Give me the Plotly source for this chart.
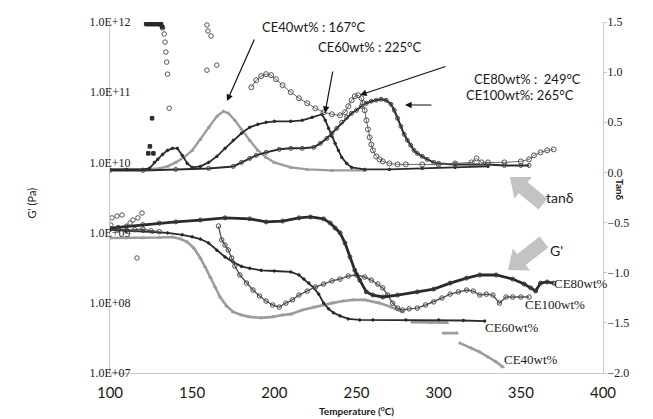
import math
import plotly.graph_objects as go

# ---------------- data ----------------
# tan delta (right axis)
tan40_T = [100, 110, 120, 130, 135, 140, 145, 150, 155, 160, 165, 169, 172, 176, 180, 185, 190, 195, 200, 210, 220, 235, 255]
tan40_v = [0.03, 0.03, 0.03, 0.04, 0.06, 0.10, 0.15, 0.22, 0.33, 0.45, 0.56, 0.61, 0.59, 0.52, 0.43, 0.32, 0.22, 0.15, 0.10, 0.05, 0.03, 0.02, 0.02]

tan60_T = [100, 110, 120, 124, 127, 129, 132, 135, 138, 141, 144, 147, 150, 155, 160, 165, 170, 175, 180, 185, 190, 195, 200, 210, 217, 223, 229, 231, 233, 235, 237, 239, 241, 244, 247, 255, 270, 290, 310, 330]
tan60_v = [0.03, 0.03, 0.03, 0.04, 0.10, 0.13, 0.18, 0.22, 0.24, 0.24, 0.17, 0.09, 0.05, 0.06, 0.10, 0.16, 0.24, 0.32, 0.39, 0.45, 0.48, 0.50, 0.51, 0.51, 0.52, 0.55, 0.58, 0.52, 0.44, 0.36, 0.29, 0.22, 0.15, 0.09, 0.05, 0.03, 0.03, 0.04, 0.05, 0.06]

tan80_T = [186, 189, 192, 195, 198, 201, 205, 210, 215, 220, 225, 230, 235, 240, 243, 245, 247, 249, 251, 253, 254, 255, 256, 257, 258, 259, 260, 262, 264, 266, 270, 275, 280, 290, 300, 310, 320, 323, 326, 330, 340, 350, 355, 358, 362, 366, 370]
tan80_v = [0.85, 0.92, 0.96, 0.98, 0.97, 0.93, 0.87, 0.80, 0.74, 0.69, 0.64, 0.60, 0.58, 0.57, 0.60, 0.66, 0.72, 0.76, 0.77, 0.74, 0.69, 0.62, 0.52, 0.43, 0.35, 0.28, 0.22, 0.16, 0.13, 0.11, 0.09, 0.08, 0.08, 0.08, 0.08, 0.09, 0.10, 0.14, 0.10, 0.10, 0.10, 0.11, 0.13, 0.17, 0.20, 0.22, 0.23]

tan100_T = [100, 120, 140, 160, 175, 180, 185, 189, 195, 203, 210, 217, 224, 228, 232, 235, 238, 241, 244, 247, 250, 253, 256, 259, 262, 265, 268, 271, 273, 275, 277, 279, 281, 283, 285, 287, 290, 293, 297, 300, 310, 320, 330, 340, 350, 355]
tan100_v = [0.02, 0.02, 0.03, 0.04, 0.06, 0.10, 0.14, 0.17, 0.20, 0.23, 0.24, 0.24, 0.25, 0.29, 0.34, 0.39, 0.44, 0.50, 0.55, 0.59, 0.62, 0.66, 0.69, 0.71, 0.72, 0.73, 0.72, 0.68, 0.62, 0.54, 0.46, 0.38, 0.32, 0.27, 0.22, 0.19, 0.16, 0.13, 0.10, 0.09, 0.08, 0.08, 0.08, 0.07, 0.07, 0.07]

# scattered low-temperature tan delta points
tan_out_circ_T = [131, 132, 133, 133.5, 134, 134.5, 135, 136, 159, 159.6, 161.5, 159, 165]
tan_out_circ_v = [1.47, 1.44, 1.38, 1.30, 1.20, 1.10, 0.98, 0.64, 1.47, 1.41, 1.36, 1.02, 1.07]
tan_out_dark_T = [122, 123, 124, 125, 126, 127, 128, 129, 130, 131, 131.8, 125.6, 124.3, 123.3, 126.4]
tan_out_dark_v = [1.48, 1.48, 1.48, 1.48, 1.48, 1.48, 1.48, 1.48, 1.48, 1.48, 1.45, 0.54, 0.26, 0.19, 0.19]

# storage modulus G' (left axis, Pa)
g80_T = [100, 105, 110, 120, 130, 140, 155, 170, 185, 195, 205, 215, 222, 230, 234, 237, 240, 243, 246, 249, 252, 256, 260, 266, 275, 287, 297, 307, 317, 325, 335, 345, 352, 356, 359, 362, 366, 370]
g80_v = [1.16e9, 1.19e9, 1.24e9, 1.30e9, 1.37e9, 1.42e9, 1.51e9, 1.62e9, 1.57e9, 1.42e9, 1.46e9, 1.62e9, 1.67e9, 1.57e9, 1.37e9, 1.16e9, 9.9e8, 7.1e8, 4.5e8, 2.9e8, 2.1e8, 1.43e8, 1.29e8, 1.21e8, 1.29e8, 1.43e8, 1.57e8, 1.91e8, 2.25e8, 2.49e8, 2.49e8, 2.18e8, 1.85e8, 1.63e8, 1.47e8, 1.91e8, 1.98e8, 1.91e8]

g60_T = [100, 110, 120, 126, 135, 144, 150, 155, 160, 165, 170, 175, 180, 185, 192, 200, 210, 215, 218, 221, 224, 227, 230, 233, 236, 240, 245, 252, 260, 280, 300, 315, 328]
g60_v = [1.09e9, 1.07e9, 1.05e9, 1.02e9, 9.9e8, 9.3e8, 8.7e8, 8.1e8, 7.1e8, 5.6e8, 4.5e8, 3.8e8, 3.3e8, 3.1e8, 2.9e8, 2.84e8, 2.75e8, 2.49e8, 2.18e8, 1.91e8, 1.63e8, 1.33e8, 9.9e7, 8.2e7, 7.2e7, 6.5e7, 5.9e7, 5.7e7, 5.7e7, 5.7e7, 5.7e7, 5.6e7, 5.5e7]

g100_T = [100, 105, 110, 115, 120, 125, 130, None,
          166, 168, 170, 172, 174, 176, 179, 183, 187, 191, 195, 199, 203, 207, 211, 215, 220, 225, 230, 235, 240, 245, 250, 255, 259, 263, 266, 269, 272, 275, 278, 282, 287, 292, 297, 302, 307, 312, 317, 321, 325, 329, 333, 337, 341, 345, 350, 355]
g100_v = [1.12e9, 1.10e9, 1.08e9, 1.10e9, 1.12e9, 1.06e9, 1.03e9, None,
          1.24e9, 7.85e8, 6.65e8, 5.65e8, 4.35e8, 3.34e8, 2.49e8, 1.91e8, 1.52e8, 1.25e8, 1.06e8, 9.3e7, 8.7e7, 9.9e7, 1.10e8, 1.29e8, 1.47e8, 1.68e8, 1.85e8, 2.05e8, 2.18e8, 2.41e8, 2.49e8, 2.33e8, 2.11e8, 1.85e8, 1.63e8, 1.29e8, 9.9e7, 8.4e7, 7.9e7, 8.2e7, 8.4e7, 9.3e7, 1.03e8, 1.17e8, 1.33e8, 1.43e8, 1.52e8, 1.47e8, 1.29e8, 1.33e8, 1.29e8, 9.9e7, 1.21e8, 1.21e8, 1.21e8, 1.21e8]

g40_T = [100, 110, 120, 130, 138, 143, 147, 151, 155, 158, 161, 164, 167, 171, 175, 180, 185, 192, 199, 205, 210, 217, 224, 230, 235, 242, 248, 255, 264, 271, 278, None,
         284, 295, 305, None, 303, 311, None, 313, 320, 325, 330, 335, 339]
g40_v = [8.37e8, 8.37e8, 8.37e8, 8.5e8, 8.65e8, 8.1e8, 7.35e8, 6.04e8, 4.35e8, 3.24e8, 2.33e8, 1.68e8, 1.21e8, 9.0e7, 7.4e7, 6.7e7, 6.3e7, 6.1e7, 6.3e7, 6.7e7, 6.9e7, 7.9e7, 8.7e7, 9.3e7, 9.9e7, 1.06e8, 1.10e8, 1.10e8, 9.9e7, 8.7e7, 7.4e7, None,
         5.3e7, 5.2e7, 5.2e7, None, 3.7e7, 3.7e7, None, 2.67e7, 2.27e7, 1.99e7, 1.69e7, 1.44e7, 1.22e7]

g_out_T = [100.5, 101.2, 104.3, 107.3, 112.2, 114, 116.4, 117, 119.5]
g_out_v = [1.28e9, 1.62e9, 1.72e9, 1.78e9, 1.37e9, 1.51e9, 4.35e8, 1.62e9, 1.9e9]

x_ticks = [100, 150, 200, 250, 300, 350, 400]
g_tickvals = [1e7, 1e8, 1e9, 1e10, 1e11, 1e12]
g_ticktext = ["1.0E+07", "1.0E+08", "1.0E+09", "1.0E+10", "1.0E+11", "1.0E+12"]

# ---------------- figure ----------------
W, H = 653, 419
L, R, T, B = 110, 50, 22, 46
PW, PH = W - L - R, H - T - B

def px2x(px):
    return 100 + (px - L) * 300 / PW

def py2y(py):
    return 1.5 - (py - T) * 3.5 / PH

DARK = "#2a2a2a"
MID = "#555555"
LIGHT = "#9c9c9c"

fig = go.Figure()

def add(x, y, axis, color, width, symbol, size, mcolor=None, mode="lines+markers", mlw=1.0):
    fig.add_trace(go.Scatter(
        x=x, y=y, yaxis=axis, mode=mode, showlegend=False, connectgaps=False,
        line=dict(color=color, width=width),
        marker=dict(symbol=symbol, size=size, color=mcolor or color, line=dict(width=mlw, color=mcolor or color)),
        hoverinfo="skip"))

# G' curves
add(g40_T, g40_v, "y", LIGHT, 2.6, "triangle-up", 3)
add(g60_T, g60_v, "y", DARK, 1.8, "circle", 2.5)
add(g100_T, g100_v, "y", MID, 1.4, "circle-open", 4.5, mcolor="#4a4a4a")
add(g80_T, g80_v, "y", DARK, 2.8, "circle-open", 4, mcolor="#3a3a3a")
add(g_out_T, g_out_v, "y", MID, 1, "circle-open", 4.5, mcolor="#555555", mode="markers")

# tan delta curves
add(tan40_T, tan40_v, "y2", LIGHT, 2.4, "triangle-up", 3)
add(tan60_T, tan60_v, "y2", DARK, 1.8, "circle", 2.5)
add(tan100_T, tan100_v, "y2", DARK, 2.0, "circle-open", 4, mcolor="#444444")
add(tan80_T, tan80_v, "y2", "#6a6a6a", 1.0, "circle-open", 5, mcolor="#555555")
add(tan_out_circ_T, tan_out_circ_v, "y2", MID, 1, "circle-open", 4.5, mcolor="#555555", mode="markers")
add(tan_out_dark_T, tan_out_dark_v, "y2", DARK, 1, "square", 3.5, mode="markers")

# ---------------- annotations ----------------
ann = []
SANS = "Lato"
SERIF = "Liberation Serif"

def text_at(px, py, s, size, family=SANS, xanchor="center", bold=False):
    ann.append(dict(x=px2x(px), y=py2y(py), xref="x", yref="y2", text=("<b>%s</b>" % s) if bold else s,
                    showarrow=False, xanchor=xanchor, yanchor="middle",
                    font=dict(family=family, size=size, color="#1a1a1a")))

def arrow(tip, tail):
    ann.append(dict(x=px2x(tip[0]), y=py2y(tip[1]), ax=px2x(tail[0]), ay=py2y(tail[1]),
                    xref="x", yref="y2", axref="x", ayref="y2", text="", showarrow=True,
                    arrowhead=2, arrowsize=1.1, arrowwidth=1.2, arrowcolor="#111111"))

text_at(313, 27, "CE40wt% : 167°C", 13)
text_at(369, 47, "CE60wt% : 225°C", 13)
text_at(527, 79, "CE80wt% :  249°C", 13)
text_at(520, 95, "CE100wt%: 265°C", 13)
arrow((227, 101), (255, 38))
arrow((325, 113), (333, 70))
arrow((360, 95), (447, 66))
arrow((405, 105), (433, 105))

text_at(552, 283, "CE80wt%", 13, SERIF, "left")
text_at(523, 304, "CE100wt%", 13, SERIF, "left")
text_at(483, 327, "CE60wt%", 13, SERIF, "left")
text_at(502, 359, "CE40wt%", 13, SERIF, "left")

text_at(560, 197, "tanδ", 14)
text_at(556, 250, "G'", 14)

ann.append(dict(x=(22 - L) / PW, y=(H - B - 203) / PH, xref="paper", yref="paper", text="G' (Pa)",
                textangle=-90, showarrow=False, font=dict(family=SANS, size=11, color="#1a1a1a")))
ann.append(dict(x=(628 - L) / PW, y=(H - B - 190) / PH, xref="paper", yref="paper", text="<b>Tanδ</b>",
                textangle=90, showarrow=False, font=dict(family=SANS, size=10, color="#1a1a1a")))
ann.append(dict(x=(356 - L) / PW, y=(H - B - 419) / PH, xref="paper", yref="paper",
                text="<b>Temperature (<sup>o</sup>C)</b>", showarrow=False, yanchor="bottom",
                font=dict(family=SANS, size=10, color="#1a1a1a")))

# block arrows (tan delta / G')
def block_arrow(tip, tail, shaft_hw=7, head_hw=14, head_len=17):
    dx, dy = tip[0] - tail[0], tip[1] - tail[1]
    Ln = math.hypot(dx, dy)
    ux, uy = dx / Ln, dy / Ln
    nx, ny = -uy, ux
    nk = (tip[0] - ux * head_len, tip[1] - uy * head_len)
    pts = [(tail[0] + nx * shaft_hw, tail[1] + ny * shaft_hw),
           (nk[0] + nx * shaft_hw, nk[1] + ny * shaft_hw),
           (nk[0] + nx * head_hw, nk[1] + ny * head_hw),
           tip,
           (nk[0] - nx * head_hw, nk[1] - ny * head_hw),
           (nk[0] - nx * shaft_hw, nk[1] - ny * shaft_hw),
           (tail[0] - nx * shaft_hw, tail[1] - ny * shaft_hw)]
    path = "M " + " L ".join("%f,%f" % (px2x(p[0]), py2y(p[1])) for p in pts) + " Z"
    return dict(type="path", path=path, xref="x", yref="y2", fillcolor="#c3c3c3",
                line=dict(width=0), layer="above")

shapes = [block_arrow((510, 177), (543, 204)), block_arrow((508, 270), (544, 242))]

fig.update_layout(
    width=W, height=H, margin=dict(l=L, r=R, t=T, b=B, autoexpand=False),
    paper_bgcolor="white", plot_bgcolor="white",
    annotations=ann, shapes=shapes, showlegend=False,
    xaxis=dict(range=[100, 400], tickvals=x_ticks, showgrid=False, zeroline=False,
               showline=True, linecolor="#c8c8c8", linewidth=1, ticks="", automargin=False,
               ticklabelstandoff=6,
               tickfont=dict(family=SANS, size=15, color="#1a1a1a")),
    yaxis=dict(type="log", range=[7, 12], tickvals=g_tickvals, ticktext=g_ticktext,
               showgrid=False, zeroline=False, showline=True, linecolor="#c8c8c8", linewidth=1,
               ticks="", automargin=False, ticklabelstandoff=-24,
               tickfont=dict(family=SERIF, size=12, color="#1a1a1a")),
    yaxis2=dict(overlaying="y", side="right", range=[-2, 1.5], dtick=0.5, tick0=0, tickformat=".1f",
                showgrid=False, zeroline=False, showline=True, linecolor="#c8c8c8", linewidth=1,
                ticks="outside", ticklen=3, tickcolor="#c8c8c8", automargin=False,
                ticklabelstandoff=-2,
                tickfont=dict(family=SERIF, size=12, color="#1a1a1a")),
)

fig.write_html("out.html", config={"displayModeBar": False},
               post_script="document.body.style.margin='0px';document.body.style.padding='0px';")
